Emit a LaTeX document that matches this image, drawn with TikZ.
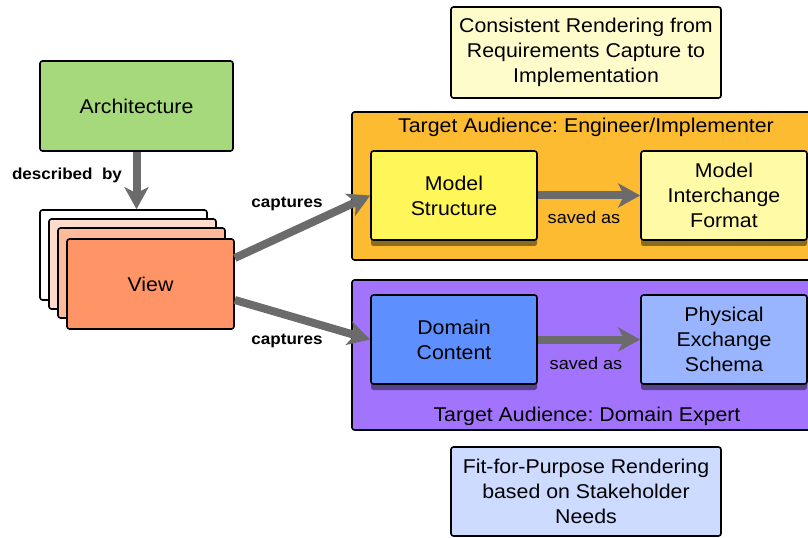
\documentclass[tikz,border=0pt]{standalone}
\usepackage{fontspec}
\setmainfont{Liberation Sans}[FakeStretch=1.07]
\usetikzlibrary{arrows.meta,shadows}

\definecolor{archGreen}{HTML}{A6D97B}
\definecolor{viewLight}{HTML}{FFDBCC}
\definecolor{viewMid}{HTML}{FFB99B}
\definecolor{viewDark}{HTML}{FF9466}
\definecolor{engOrange}{HTML}{FCBB30}
\definecolor{expertPurple}{HTML}{A274FD}
\definecolor{structYellow}{HTML}{FFF65A}
\definecolor{formatYellow}{HTML}{FFFAA6}
\definecolor{contentBlue}{HTML}{5E8FFF}
\definecolor{schemaBlue}{HTML}{99B5FF}
\definecolor{noteYellow}{HTML}{FFFCCC}
\definecolor{noteBlue}{HTML}{CCDBFF}
\definecolor{shadowBrown}{HTML}{8C6A1E}
\definecolor{shadowPurple}{HTML}{56418F}
\definecolor{arrowGray}{HTML}{6B6B6B}

\begin{document}
\begin{tikzpicture}
[x=1bp,y=-1bp,
  boxDecorate/.style={draw,line width=1.6bp,rounded corners=2.5bp,align=center,
    inner sep=0pt,font=\fontsize{20}{25}\selectfont},
  cardDecorate/.style={boxDecorate,minimum width=167bp,minimum height=90bp},
  innerDecorate/.style={boxDecorate,minimum width=166bp,minimum height=89bp,
    drop shadow={shadow xshift=0bp,shadow yshift=-6bp,opacity=1,fill=#1}},
  arrowDecorate/.style={draw=arrowGray,line width=8bp,
    -{Stealth[length=22bp,width=24bp,inset=6bp]}},
  labelDecorate/.style={font=\bfseries\fontsize{16}{18}\selectfont},
  savedDecorate/.style={font=\fontsize{17}{20}\selectfont},
  titleDecorate/.style={font=\fontsize{20}{24}\selectfont}]
\useasboundingbox (0,0) rectangle (808,538);
%% architecture and the stack of views
\node (arch) at (136.5,106) [boxDecorate,fill=archGreen,minimum width=193bp,
  minimum height=90bp] {Architecture};
\foreach \cardname/\d/\col in {card0/0/white,card1/9/viewLight,card2/18/viewMid}
{
  \node (\cardname) at (123.5+\d,255+\d) [cardDecorate,fill=\col] {};
}
\node (view) at (150.5,284) [cardDecorate,fill=viewDark] {View};
%% audience containers
\node (engBox) at (582,186) [boxDecorate,fill=engOrange,minimum width=460bp,
  minimum height=148bp] {};
\node (engTitle) at (586,127) [titleDecorate] {Target Audience:\ Engineer/Implementer};
\node (expertBox) at (582,355) [boxDecorate,fill=expertPurple,minimum width=460bp,
  minimum height=150bp] {};
\node (expertTitle) at (587,416) [titleDecorate] {Target Audience:\ Domain Expert};
%% inner boxes
\node (struct) at (454,195.5) [innerDecorate=shadowBrown,fill=structYellow]
  {Model\\Structure};
\node (format) at (724,195.5) [innerDecorate=shadowBrown,fill=formatYellow]
  {Model\\Interchange\\Format};
\node (content) at (454,339.5) [innerDecorate=shadowPurple,fill=contentBlue]
  {Domain\\Content};
\node (schema) at (724,339.5) [innerDecorate=shadowPurple,fill=schemaBlue]
  {Physical\\Exchange\\Schema};
%% notes
\node (consistent) at (586,52.5) [boxDecorate,fill=noteYellow,minimum width=270bp,
  minimum height=91bp] {Consistent Rendering from\\Requirements Capture to\\Implementation};
\node (fit) at (586,491.5) [boxDecorate,fill=noteBlue,minimum width=270bp,
  minimum height=89bp] {Fit-for-Purpose Rendering\\based on Stakeholder\\Needs};
%% edges and their labels
\draw[arrowDecorate] (arch.south) -- (arch.south |- card0.north);
\draw[arrowDecorate] ([yshift=26bp]view.east) -- (struct.west);
\draw[arrowDecorate] ([yshift=-16bp]view.east) -- (content.west);
\draw[arrowDecorate] (struct.east) -- (format.west);
\draw[arrowDecorate] (content.east) -- (schema.west);
\node (describedLabel) at (67,175) [labelDecorate] {described\ \ by};
\node (capturesTop) at (287,204) [labelDecorate] {captures};
\node (capturesBottom) at (287,341) [labelDecorate] {captures};
\node (savedTop) at (584,217) [savedDecorate] {saved as};
\node (savedBottom) at (586,363) [savedDecorate] {saved as};
\end{tikzpicture}
\end{document}
